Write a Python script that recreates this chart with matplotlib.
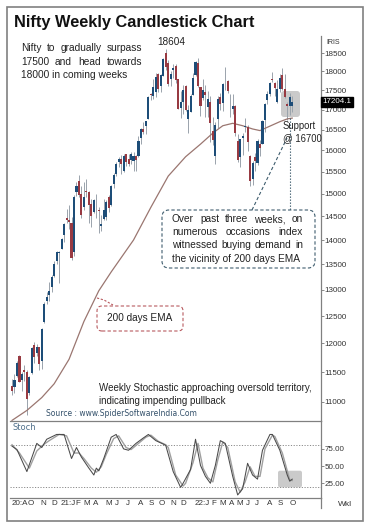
import numpy as np
import matplotlib
matplotlib.use('Agg')
import matplotlib.pyplot as plt
from matplotlib import font_manager
from matplotlib.patches import FancyBboxPatch, Rectangle
from matplotlib.lines import Line2D
from matplotlib.ticker import NullLocator
from matplotlib.transforms import IdentityTransform, blended_transform_factory

W, H = 374, 529

# weekly candles, week ending 14-Aug-2020 ... 14-Oct-2022
opens = [11270, 11248, 11432, 11777, 11359, 11540, 11503, 11140, 11487, 11973,
         11833, 11938, 11697, 12399, 12780, 12906, 13062, 13265, 13571, 13741,
         13815, 14104, 14474, 14422, 14365, 13759, 15045, 15276, 14999, 14702,
         15064, 15048, 14773, 14600, 14837, 14644, 14306, 14449, 14481, 14928,
         14756, 15211, 15437, 15725, 15791, 15525, 15915, 15793, 15766, 15755,
         15860, 15874, 16288, 16518, 16592, 16775, 17400, 17363, 17443, 17932,
         17615, 17867, 18500, 18230, 17784, 18040, 18141, 17796, 17055, 17210,
         17619, 16773, 16938, 17388, 17913, 18235, 17575, 17302, 17456, 17076,
         17193, 16481, 15867, 16757, 17329, 17181, 17810, 17740, 17183, 17009,
         17097, 16227, 15845, 16290, 16578, 16570, 15877, 15335, 15839, 15710,
         16152, 16151, 16747, 17244, 17401, 17797, 17682, 17188, 17546, 17891,
         17540, 17156, 17102, 17094]
highs = [11374, 11460, 11686, 11794, 11493, 11618, 11535, 11428, 11939, 12025,
         11998, 11942, 12280, 12770, 12963, 13145, 13280, 13579, 13773, 13778,
         14049, 14367, 14654, 14753, 14491, 14964, 15257, 15432, 15176, 15274,
         15336, 15051, 14879, 14876, 14984, 14697, 14527, 14890, 14864, 14967,
         15190, 15469, 15734, 15835, 15901, 15915, 15915, 15915, 15952, 15962,
         15882, 16349, 16543, 16701, 16722, 17340, 17436, 17793, 17947, 17948,
         17941, 18350, 18604, 18310, 18012, 18210, 18210, 17805, 17490, 17640,
         17640, 17118, 17400, 17944, 18286, 18351, 17599, 17794, 17640, 17490,
         17352, 16815, 16694, 17344, 17442, 17703, 18115, 17779, 17414, 17404,
         17133, 16404, 16284, 16415, 16794, 16610, 15886, 15749, 15927, 16275,
         16248, 16752, 17172, 17490, 17724, 17992, 17726, 17778, 17925, 18096,
         17919, 17196, 17428, 17348]
lows = [11112, 11144, 11410, 11326, 11185, 11350, 10790, 11120, 11465, 11661,
        11775, 11535, 11557, 12367, 12730, 12790, 12962, 13241, 13500, 13131,
        13805, 13954, 14357, 14222, 13597, 13662, 14958, 14935, 14467, 14635,
        14918, 14350, 14264, 14584, 14459, 14151, 14191, 14416, 14417, 14591,
        14725, 15127, 15406, 15606, 15450, 15505, 15636, 15632, 15671, 15513,
        15513, 15834, 16162, 16395, 16395, 16764, 17255, 17270, 17326, 17453,
        17452, 17864, 18034, 17613, 17600, 17836, 17689, 17026, 16782, 16891,
        16966, 16410, 16934, 17383, 17880, 17575, 16836, 17244, 16810, 16809,
        16203, 16134, 15671, 16555, 17006, 16979, 17505, 17442, 16824, 16889,
        16341, 15735, 15601, 15903, 16444, 15975, 15183, 15192, 15511, 15662,
        15858, 16143, 16438, 17154, 17359, 17710, 17345, 17167, 17445, 17499,
        17291, 16748, 16856, 16950]
closes = [11178, 11372, 11647, 11333, 11464, 11505, 11050, 11417, 11914, 11762,
          11930, 11642, 12264, 12720, 12860, 12969, 13258, 13514, 13761, 13749,
          14018, 14347, 14433, 14372, 13635, 14924, 15163, 14982, 14529, 14938,
          15031, 14744, 14507, 14867, 14834, 14617, 14341, 14631, 14823, 14677,
          15175, 15436, 15670, 15799, 15683, 15860, 15722, 15690, 15923, 15856,
          15763, 16238, 16529, 16451, 16705, 17324, 17369, 17585, 17853, 17532,
          17895, 18339, 18115, 17672, 17917, 18103, 17765, 17026, 17197, 17512,
          16985, 17004, 17354, 17813, 18256, 17617, 17102, 17516, 17375, 17276,
          16658, 16246, 16630, 17287, 17153, 17670, 17784, 17476, 17172, 17102,
          16411, 15782, 16266, 16353, 16584, 16202, 15294, 15700, 15752, 16221,
          16049, 16719, 17158, 17398, 17698, 17758, 17559, 17539, 17833, 17531,
          17327, 17094, 17315, 17204.1]
last_price = 17204.1

# 200 days EMA (week index, value)
ema_week = [0, 6, 12, 17, 23, 29, 35, 40, 49, 56, 63, 70, 76, 81, 85, 89, 93, 97, 100, 104, 108, 111, 113]
ema_val = [10700, 10860, 11070, 11300, 11720, 12400, 12980, 13350, 14000, 14700, 15400, 15850,
           16150, 16420, 16600, 16660, 16600, 16520, 16480, 16590, 16700, 16770, 16790]

# stochastic %K and %D turning points
k_week = [0, 2, 6, 10, 12, 14, 18, 21, 24, 26, 28, 31, 33, 34, 35, 37, 40, 42, 45, 47, 50, 53, 55, 58,
          61, 62, 65, 68, 69, 72, 74, 76, 78, 80, 82, 84, 86, 89, 91, 93, 95, 97, 99, 101, 104, 105,
          108, 111, 112, 113]
k_val = [79, 74, 42, 83, 77, 89, 96, 96, 61, 77, 63, 47, 37, 47, 43, 61, 92, 96, 75, 73, 83, 91, 96, 87,
         82, 80, 42, 19, 25, 45, 89, 51, 35, 25, 51, 87, 83, 35, 8, 17, 54, 37, 31, 73, 96, 96,
         73, 37, 28, 31]
d_week = [0, 3, 7, 10, 13, 15, 19, 22, 25, 27, 29, 32, 34, 36, 38, 41, 43, 46, 48, 51, 54, 56, 59, 62,
          63, 66, 69, 70, 73, 75, 77, 79, 81, 83, 85, 87, 90, 92, 94, 96, 98, 100, 102, 105, 106,
          109, 112, 113]
d_val = [81, 69, 47, 72, 82, 87, 96, 94, 69, 69, 61, 47, 41, 49, 67, 90, 94, 77, 74, 83, 92, 95, 86, 81,
         77, 37, 21, 25, 55, 83, 47, 33, 27, 59, 85, 77, 27, 12, 27, 49, 35, 35, 75, 95, 93,
         69, 30, 29]

price_ticks = [11000, 11500, 12000, 12500, 13000, 13500, 14000, 14500, 15000,
               15500, 16000, 16500, 17000, 17500, 18000, 18500]
stoch_ticks = [25, 50, 75]
month_labels = ['20:A', 'O', 'N', 'D', '21:J', 'F', 'M', 'A', 'M', 'J', 'J', 'A', 'S', 'O', 'N', 'D',
                '22:J', 'F', 'M', 'A', 'M', 'J', 'J', 'A', 'S', 'O']
month_week = [0, 6.3, 11.5, 15.9, 19.4, 25.5, 28.8, 32.5, 37.5, 41.5, 46, 51, 55, 59, 64, 68,
              73.6, 80.5, 83.7, 87.3, 90.6, 94.5, 98, 103, 107, 112]

names = {f.name for f in font_manager.fontManager.ttflist}
NARROW = 'Liberation Sans Narrow' if 'Liberation Sans Narrow' in names else 'Liberation Sans'
SANS = 'Liberation Sans'

fig = plt.figure(figsize=(W / 100, H / 100), dpi=100)
fig.patch.set_facecolor('white')
ax = fig.add_axes([10 / W, 1 - 420.7 / H, 311 / W, (420.7 - 36) / H])
ax2 = fig.add_axes([10 / W, 1 - 497.7 / H, 311 / W, 77 / H], sharex=ax)
for a in (ax, ax2):
    a.set_facecolor('none')

# candles
o = np.array(opens); h = np.array(highs); l = np.array(lows); c = np.array(closes)
x = np.arange(len(c))
cols = np.where(c >= o, '#1d4d78', '#983a42')
ax.vlines(x, l, h, color='#9aa3ac', lw=0.7, zorder=2)
ax.bar(x, np.abs(c - o), bottom=np.minimum(o, c), width=0.85, color=cols, lw=0, zorder=3)
ax.plot(ema_week, ema_val, color='#9a7670', lw=0.9, zorder=2.5)

ax.set_yscale('log')
ax.set_ylim(10695, 18975)
ax.set_xlim(-0.81, 124.6)
ax.yaxis.tick_right()
ax.set_yticks(price_ticks)
ax.set_yticklabels([str(t) for t in price_ticks])
ax.yaxis.set_minor_locator(NullLocator())
ax.tick_params(axis='y', direction='out', length=2, width=0.6, color='#777777',
               labelsize=5.8, pad=0.8, labelcolor='#333333')
for lab in ax.get_yticklabels():
    lab.set_family(SANS)
ax.tick_params(axis='x', bottom=False, labelbottom=False)
for s in ('top', 'left'):
    ax.spines[s].set_visible(False)
for s in ('right', 'bottom'):
    ax.spines[s].set_color('#808080')
    ax.spines[s].set_linewidth(0.9)

# highlight box on price
ax.add_patch(FancyBboxPatch((281, H - 117), 19, 26, boxstyle='round,pad=0,rounding_size=3',
                            transform=IdentityTransform(), fc='#cacaca', ec='none', zorder=0.5))

# last price tag
ax.text(1.004, last_price, '17204.1', transform=blended_transform_factory(ax.transAxes, ax.transData),
        va='center', ha='left', color='white', fontsize=5.8, family=SANS, clip_on=False, zorder=5,
        bbox=dict(boxstyle='square,pad=0.18', fc='black', ec='black'))

# stochastic pane
ax2.add_patch(FancyBboxPatch((278, H - 487.3), 24, 16.6, boxstyle='round,pad=0,rounding_size=2',
                             transform=IdentityTransform(), fc='#cacaca', ec='none', zorder=0.5))
ax2.axhline(80, color='#8a8a8a', lw=0.7, ls=(0, (1.2, 1.6)))
ax2.axhline(20, color='#8a8a8a', lw=0.7, ls=(0, (1.2, 1.6)))
ax2.plot(d_week, d_val, color='#a0a0a0', lw=1.0, zorder=3)
ax2.plot(k_week, k_val, color='#4a4a4a', lw=0.75, zorder=4)
ax2.set_ylim(4, 116)
ax2.yaxis.tick_right()
ax2.set_yticks(stoch_ticks)
ax2.set_yticklabels(['%.2f' % t for t in stoch_ticks])
ax2.tick_params(axis='y', direction='out', length=2, width=0.6, color='#777777',
                labelsize=5.8, pad=0.8, labelcolor='#333333')
ax2.set_xticks(month_week)
ax2.set_xticklabels(month_labels, ha='left')
ax2.tick_params(axis='x', length=0, labelsize=5.8, pad=2, labelcolor='#333333')
for lab in ax2.get_yticklabels() + ax2.get_xticklabels():
    lab.set_family(SANS)
for s in ('top', 'left'):
    ax2.spines[s].set_visible(False)
for s in ('right', 'bottom'):
    ax2.spines[s].set_color('#808080')
    ax2.spines[s].set_linewidth(0.9)
ax2.set_xlim(-0.81, 124.6)

# axis line runs a bit below, outer frame
fig.add_artist(Line2D([321, 321], [H - 497.7, H - 508], transform=IdentityTransform(),
                      color='#808080', lw=0.9))
fig.add_artist(Rectangle((7, H - 520.7), 356, 513.7, transform=IdentityTransform(),
                         fill=False, ec='#808080', lw=1.2))

renderer = fig.canvas.get_renderer()


def text_width(s, size, **kw):
    t = fig.text(0, 0, s, fontsize=size, **kw)
    w = t.get_window_extent(renderer).width
    t.remove()
    return w


def fit(s, target, **kw):
    return 10 * target / text_width(s, 10, **kw)


def put(xp, yp, s, size, **kw):
    return fig.text(xp / W, 1 - yp / H, s, fontsize=size, va='center', **kw)


def justified(line, x0, x1, yp, size, **kw):
    words = line.split()
    widths = [text_width(w_, size, **kw) for w_ in words]
    gap = (x1 - x0 - sum(widths)) / (len(words) - 1)
    xp = x0
    for w_, wd in zip(words, widths):
        put(xp, yp, w_, size, ha='left', **kw)
        xp += wd + gap


# title
title = 'Nifty Weekly Candlestick Chart'
put(14, 23, title, fit(title, 241, family=SANS, weight='bold'), family=SANS, weight='bold',
    color='#111111', ha='left')

# top-left note
txt = dict(family=NARROW, color='#222222')
sz = fit('18000 in coming weeks', 106, **txt)
justified('Nifty to gradually surpass', 21, 142, 48, sz, **txt)
justified('17500 and head towards', 21, 142, 62, sz, **txt)
put(21, 75, '18000 in coming weeks', sz, ha='left', **txt)

put(171, 42, '18604', fit('18604', 28, **txt), ha='center', **txt)

ssz = fit('@ 16700', 39, **txt)
put(283, 126, 'Support', ssz, ha='left', **txt)
put(283, 138, '@ 16700', ssz, ha='left', **txt)

# callout about EMA support
fig.add_artist(FancyBboxPatch((162, H - 268), 153, 58, boxstyle='round,pad=0,rounding_size=7',
                              transform=IdentityTransform(), fc='white', ec='#3f5d6e', lw=0.8,
                              ls=(0, (3, 2)), zorder=1))
csz = fit('the vicinity of 200 days EMA', 128, **txt)
justified('Over past three weeks, on', 172, 303, 219, csz, **txt)
justified('numerous occasions index', 172, 303, 232, csz, **txt)
justified('witnessed buying demand in', 172, 303, 245, csz, **txt)
put(172, 259, 'the vicinity of 200 days EMA', csz, ha='left', **txt)
fig.add_artist(Line2D([252, 287], [H - 210, H - 138], transform=IdentityTransform(),
                      color='#3f5d6e', lw=0.8, ls=(0, (3, 2))))
fig.add_artist(Line2D([290, 290], [H - 118, H - 210], transform=IdentityTransform(),
                      color='#3f5d6e', lw=0.8, ls=(0, (1.2, 1.5))))

# EMA label
fig.add_artist(FancyBboxPatch((97, H - 331), 86, 25, boxstyle='round,pad=0,rounding_size=5',
                              transform=IdentityTransform(), fc='white', ec='#b85b60', lw=0.8,
                              ls=(0, (3, 2)), zorder=1))
put(107, 318, '200 days EMA', fit('200 days EMA', 65, **txt), ha='left', **txt)
fig.add_artist(Line2D([97, 104, 113], [H - 298, H - 300, H - 305], transform=IdentityTransform(),
                      color='#b85b60', lw=0.8, ls=(0, (2, 1.5))))

# stochastic note
wsz = fit('Weekly Stochastic approaching oversold territory,', 214, **txt)
put(99, 388, 'Weekly Stochastic approaching oversold territory,', wsz, ha='left', **txt)
put(99, 401, 'indicating impending pullback', wsz, ha='left', **txt)

src = 'Source : www.SpiderSoftwareIndia.Com'
put(46, 413, src, fit(src, 151, family='DejaVu Sans'), ha='left', family='DejaVu Sans', color='#34516b')

put(12, 427, 'Stoch', 6, ha='left', family='DejaVu Sans', color='#4f6f8a')
put(326, 42, 'IRIS', 5, ha='left', family=SANS, color='#333333')
put(338, 504, 'Wkl', 6, ha='left', family=SANS, color='#333333')

fig.savefig('out.png', dpi=100, facecolor='white')
